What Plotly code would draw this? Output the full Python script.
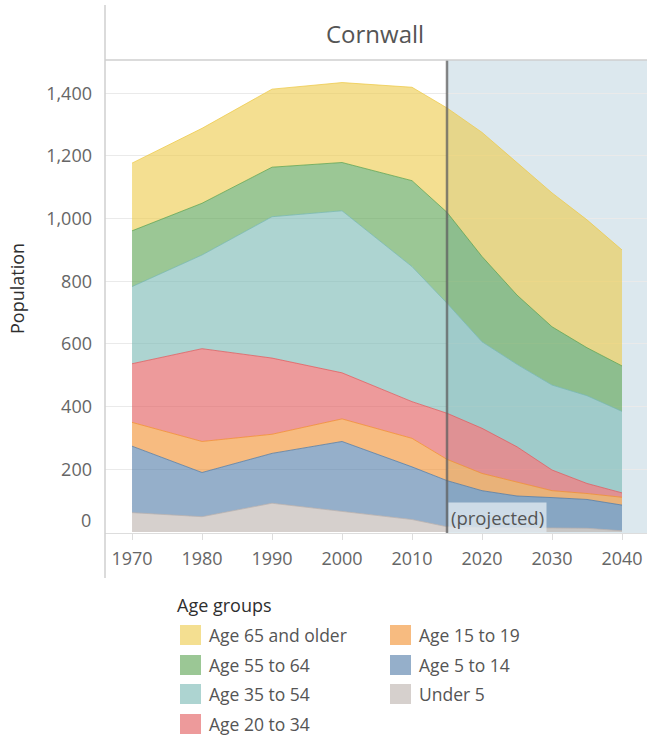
import plotly.graph_objects as go

# ---- data ----
years = [1970, 1980, 1990, 2000, 2010, 2015, 2020, 2025, 2030, 2035, 2040]
age_groups = ["Under 5", "Age 5 to 14", "Age 15 to 19", "Age 20 to 34",
              "Age 35 to 54", "Age 55 to 64", "Age 65 and older"]
under_5 = [62, 49, 92, 67, 40, 17, 15, 13, 13, 12, 4]
age_5_14 = [212, 141, 159, 222, 168, 147, 117, 102, 97, 92, 82]
age_15_19 = [76, 99, 61, 72, 91, 68, 55, 44, 22, 19, 25]
age_20_34 = [187, 296, 243, 147, 117, 147, 144, 113, 66, 32, 14]
age_35_54 = [246, 299, 451, 517, 431, 351, 276, 263, 271, 280, 260]
age_55_64 = [178, 165, 158, 154, 274, 290, 272, 221, 186, 153, 145]
age_65_plus = [216, 239, 249, 255, 298, 333, 396, 424, 427, 408, 370]
series = [under_5, age_5_14, age_15_19, age_20_34, age_35_54, age_55_64, age_65_plus]

y_tick_vals = [200, 400, 600, 800, 1000, 1200, 1400]
x_tick_vals = [1970, 1980, 1990, 2000, 2010, 2020, 2030, 2040]
projection_start = 2015
title_text = "Cornwall"
y_title = "Population"
legend_title = "Age groups"
legend_order = ["Age 65 and older", "Age 55 to 64", "Age 35 to 54", "Age 20 to 34",
                "Age 15 to 19", "Age 5 to 14", "Under 5"]

# ---- styling ----
base_colors = {
    "Under 5": (186, 176, 172),
    "Age 5 to 14": (78, 121, 167),
    "Age 15 to 19": (242, 142, 43),
    "Age 20 to 34": (225, 87, 89),
    "Age 35 to 54": (118, 183, 178),
    "Age 55 to 64": (89, 161, 79),
    "Age 65 and older": (237, 201, 72),
}
ALPHA = 0.6
FONT = "Open Sans"
W, H = 647, 735
ML, MR, MT, MB = 105, 0, 60, 202
PW, PH = W - ML - MR, H - MT - MB


def rgba(c, a):
    return f"rgba({c[0]},{c[1]},{c[2]},{a})"


def px_x(X):
    return (X - ML) / PW


def px_y(Y):
    return (H - MB - Y) / PH


fig = go.Figure()
for name, vals in zip(age_groups, series):
    c = base_colors[name]
    fig.add_trace(go.Scatter(
        x=years, y=vals, name=name, stackgroup="one", mode="lines",
        line=dict(color=rgba(c, 0.75), width=1),
        fillcolor=rgba(c, ALPHA), showlegend=False,
        hovertemplate="%{x}: %{y}<extra>" + name + "</extra>",
    ))

shapes = []
# projected shading (below gridlines)
shapes.append(dict(type="rect", xref="x", yref="paper", x0=projection_start, x1=2050,
                   y0=0, y1=1, fillcolor="#DCE8EE", line=dict(width=0), layer="below"))
# projection line
shapes.append(dict(type="line", xref="x", yref="paper", x0=projection_start, x1=projection_start,
                   y0=0, y1=1, line=dict(color="rgba(95,95,95,0.75)", width=2.5), layer="above"))
# header frame lines
shapes.append(dict(type="line", xref="paper", yref="paper", x0=0, x1=1.01, y0=1, y1=1,
                   line=dict(color="#CFCFCF", width=1.5), layer="above"))
shapes.append(dict(type="line", xref="paper", yref="paper", x0=0, x1=0,
                   y0=px_y(578), y1=px_y(5), line=dict(color="#CFCFCF", width=1.5), layer="above"))

annotations = []
annotations.append(dict(text=title_text, xref="paper", yref="paper", x=px_x(375), y=px_y(33),
                        showarrow=False, font=dict(family=FONT, size=24, color="#555555"),
                        xanchor="center", yanchor="middle"))
annotations.append(dict(text=y_title, xref="paper", yref="paper", x=px_x(17), y=px_y(289),
                        showarrow=False, textangle=-90,
                        font=dict(family=FONT, size=18, color="#2E2E2E"),
                        xanchor="center", yanchor="middle"))
annotations.append(dict(text="0", xref="paper", yref="y", x=px_x(93), y=0, yshift=12,
                        showarrow=False, font=dict(family=FONT, size=18, color="#666666"),
                        xanchor="right", yanchor="middle"))
annotations.append(dict(text="(projected)", xref="x", yref="paper", x=projection_start, y=0,
                        xshift=1, showarrow=False, xanchor="left", yanchor="bottom",
                        font=dict(family=FONT, size=18.5, color="#555555"),
                        bgcolor="rgba(228,236,243,0.75)", borderpad=2))

# manual legend
annotations.append(dict(text=legend_title, xref="paper", yref="paper", x=px_x(175), y=px_y(605),
                        showarrow=False, xanchor="left", yanchor="middle",
                        font=dict(family=FONT, size=18, color="#2E2E2E")))
col_x = [180, 390]
row_y = [635, 665, 694, 724]
for i, name in enumerate(legend_order):
    col, row = (0, i) if i < 4 else (1, i - 4)
    x0 = col_x[col]
    yc = row_y[row]
    c = base_colors[name]
    shapes.append(dict(type="rect", xref="paper", yref="paper",
                       x0=px_x(x0), x1=px_x(x0 + 21), y0=px_y(yc + 10), y1=px_y(yc - 10),
                       fillcolor=rgba(c, ALPHA), line=dict(width=0), layer="above"))
    annotations.append(dict(text=name, xref="paper", yref="paper", x=px_x(x0 + 27), y=px_y(yc),
                            showarrow=False, xanchor="left", yanchor="middle",
                            font=dict(family=FONT, size=17.5, color="#555555")))

fig.update_layout(
    width=W, height=H,
    margin=dict(l=ML, r=MR, t=MT, b=MB, pad=0),
    paper_bgcolor="white", plot_bgcolor="rgba(0,0,0,0)",
    font=dict(family=FONT, color="#666666"),
    shapes=shapes, annotations=annotations, showlegend=False,
    xaxis=dict(range=[1966.14, 2043.57], tickvals=x_tick_vals, showgrid=False,
               ticks="outside", ticklen=6, tickcolor="#DDDDDD",
               tickfont=dict(family=FONT, size=18, color="#666666"),
               showline=True, linecolor="#DDDDDD", linewidth=1, zeroline=False,
               ticklabelstandoff=3),
    yaxis=dict(range=[-3, 1506], tickvals=y_tick_vals, tickformat=",d",
               showgrid=True, gridcolor="#EAEAEA", gridwidth=1, zeroline=False,
               tickfont=dict(family=FONT, size=18, color="#666666"),
               showline=False, ticks="", ticklabelstandoff=12),
)

fig.write_html("out.html", config={"displayModeBar": False},
               post_script="document.body.style.margin='0px';")
